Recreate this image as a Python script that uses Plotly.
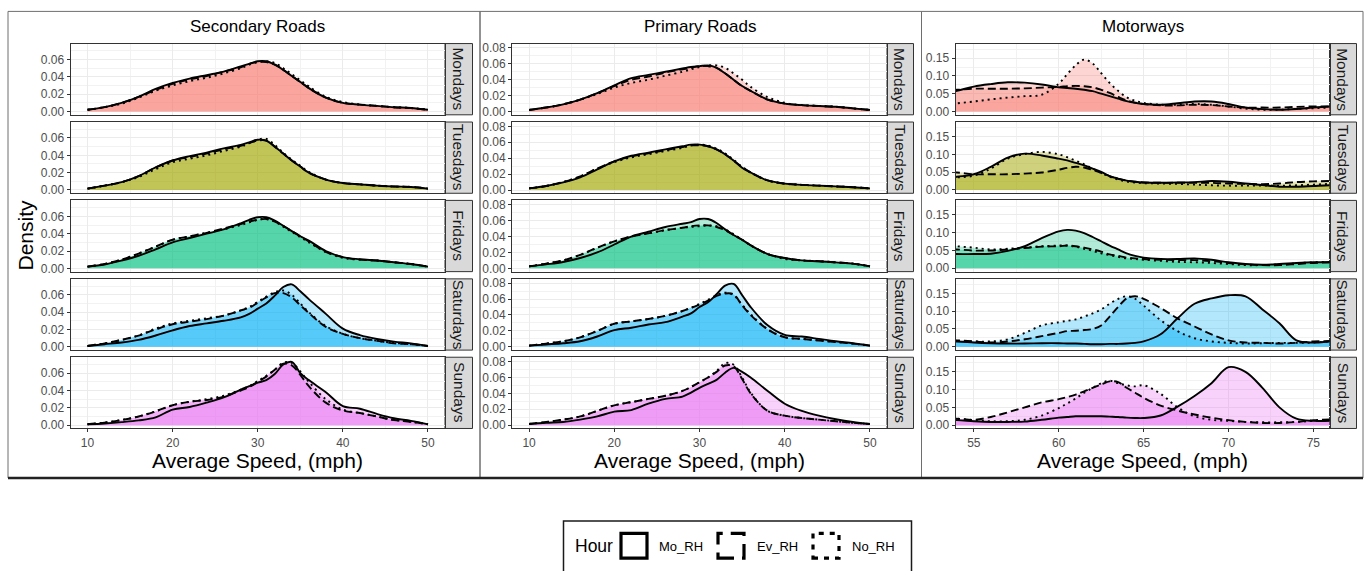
import plotly.graph_objects as go

W, H = 1370, 571

panel_titles = ["Secondary Roads", "Primary Roads", "Motorways"]
days = ["Mondays", "Tuesdays", "Fridays", "Saturdays", "Sundays"]
hours = ["Mo_RH", "Ev_RH", "No_RH"]
day_colors = ["#F8766D", "#A3A500", "#00BF7D", "#00B0F6", "#E76BF3"]

# speed grids (mph)
speed_roads = [10, 12, 14, 16, 18, 20, 22, 24, 26, 28, 29, 30, 31, 32, 33, 34, 35, 36, 38, 40, 42, 44, 46, 48, 50]
speed_motorways = [53, 54, 55, 56, 57, 58, 59, 60, 60.5, 61, 61.5, 62, 62.5, 63, 63.5, 64, 64.5, 65,
                   66, 67, 68, 69, 70, 71, 72, 73, 74, 75, 76, 77]

# ---------------- Secondary Roads ----------------
sec_mon_mo = [0.002, 0.005, 0.010, 0.017, 0.026, 0.033, 0.038, 0.042, 0.046, 0.052, 0.055, 0.058, 0.058, 0.054, 0.048, 0.041, 0.034, 0.027, 0.016, 0.010, 0.008, 0.0065, 0.005, 0.004, 0.002]
sec_mon_ev = [0.002, 0.005, 0.010, 0.017, 0.025, 0.032, 0.037, 0.041, 0.046, 0.051, 0.055, 0.057, 0.057, 0.054, 0.048, 0.041, 0.034, 0.027, 0.016, 0.010, 0.008, 0.0065, 0.005, 0.004, 0.002]
sec_mon_no = [0.002, 0.005, 0.009, 0.016, 0.024, 0.030, 0.035, 0.039, 0.044, 0.050, 0.054, 0.057, 0.058, 0.056, 0.050, 0.043, 0.036, 0.029, 0.017, 0.011, 0.008, 0.0065, 0.005, 0.004, 0.0025]

sec_tue_mo = [0.0015, 0.005, 0.009, 0.016, 0.026, 0.034, 0.039, 0.043, 0.048, 0.052, 0.055, 0.058, 0.057, 0.050, 0.042, 0.034, 0.027, 0.020, 0.012, 0.008, 0.0065, 0.005, 0.004, 0.0035, 0.0015]
sec_tue_ev = [0.0015, 0.005, 0.009, 0.016, 0.026, 0.034, 0.038, 0.042, 0.047, 0.051, 0.054, 0.057, 0.057, 0.050, 0.042, 0.034, 0.027, 0.020, 0.012, 0.008, 0.0065, 0.005, 0.004, 0.0035, 0.0015]
sec_tue_no = [0.0015, 0.005, 0.009, 0.015, 0.024, 0.032, 0.036, 0.040, 0.045, 0.050, 0.054, 0.058, 0.059, 0.052, 0.043, 0.035, 0.028, 0.021, 0.012, 0.008, 0.0065, 0.005, 0.004, 0.0035, 0.0015]

sec_fri_mo = [0.002, 0.0045, 0.009, 0.0145, 0.022, 0.030, 0.035, 0.040, 0.045, 0.052, 0.056, 0.059, 0.059, 0.055, 0.049, 0.043, 0.037, 0.032, 0.020, 0.013, 0.0105, 0.009, 0.007, 0.005, 0.002]
sec_fri_ev = [0.002, 0.005, 0.010, 0.017, 0.025, 0.033, 0.037, 0.041, 0.046, 0.051, 0.054, 0.056, 0.057, 0.054, 0.049, 0.043, 0.037, 0.031, 0.019, 0.013, 0.010, 0.009, 0.007, 0.005, 0.002]
sec_fri_no = [0.002, 0.005, 0.010, 0.017, 0.025, 0.033, 0.037, 0.041, 0.045, 0.050, 0.053, 0.056, 0.057, 0.054, 0.048, 0.042, 0.036, 0.030, 0.019, 0.012, 0.010, 0.009, 0.007, 0.005, 0.002]

sec_sat_mo = [0.001, 0.003, 0.005, 0.008, 0.013, 0.019, 0.024, 0.027, 0.030, 0.034, 0.038, 0.044, 0.050, 0.059, 0.069, 0.072, 0.064, 0.055, 0.038, 0.021, 0.0135, 0.009, 0.006, 0.004, 0.001]
sec_sat_ev = [0.001, 0.004, 0.008, 0.013, 0.020, 0.026, 0.029, 0.032, 0.036, 0.042, 0.045, 0.051, 0.057, 0.062, 0.062, 0.057, 0.048, 0.039, 0.023, 0.015, 0.010, 0.007, 0.004, 0.003, 0.001]
sec_sat_no = [0.001, 0.004, 0.008, 0.013, 0.021, 0.027, 0.030, 0.033, 0.036, 0.042, 0.046, 0.052, 0.058, 0.063, 0.065, 0.060, 0.050, 0.040, 0.024, 0.015, 0.010, 0.007, 0.0045, 0.003, 0.001]

sec_sun_mo = [0.001, 0.002, 0.0035, 0.0055, 0.009, 0.018, 0.021, 0.026, 0.032, 0.041, 0.045, 0.049, 0.052, 0.059, 0.070, 0.073, 0.060, 0.052, 0.038, 0.022, 0.019, 0.013, 0.008, 0.005, 0.001]
sec_sun_ev = [0.001, 0.003, 0.006, 0.010, 0.016, 0.023, 0.027, 0.029, 0.033, 0.040, 0.044, 0.050, 0.056, 0.064, 0.071, 0.069, 0.058, 0.045, 0.026, 0.017, 0.014, 0.010, 0.006, 0.004, 0.001]
sec_sun_no = [0.001, 0.003, 0.006, 0.010, 0.016, 0.023, 0.027, 0.030, 0.034, 0.041, 0.045, 0.051, 0.057, 0.064, 0.072, 0.072, 0.062, 0.050, 0.030, 0.018, 0.014, 0.010, 0.006, 0.004, 0.001]

# ---------------- Primary Roads ----------------
pri_mon_mo = [0.002, 0.005, 0.009, 0.015, 0.023, 0.033, 0.042, 0.046, 0.050, 0.054, 0.056, 0.057, 0.058, 0.055, 0.048, 0.040, 0.032, 0.026, 0.015, 0.010, 0.008, 0.007, 0.006, 0.004, 0.002]
pri_mon_ev = [0.002, 0.005, 0.009, 0.015, 0.023, 0.032, 0.040, 0.044, 0.049, 0.053, 0.055, 0.057, 0.057, 0.055, 0.048, 0.040, 0.032, 0.026, 0.015, 0.010, 0.008, 0.007, 0.006, 0.004, 0.002]
pri_mon_no = [0.002, 0.005, 0.009, 0.015, 0.022, 0.030, 0.036, 0.040, 0.045, 0.050, 0.053, 0.056, 0.058, 0.058, 0.055, 0.048, 0.040, 0.031, 0.018, 0.011, 0.008, 0.007, 0.006, 0.004, 0.002]

pri_tue_mo = [0.002, 0.005, 0.0095, 0.016, 0.026, 0.036, 0.043, 0.047, 0.051, 0.055, 0.057, 0.057, 0.055, 0.051, 0.045, 0.037, 0.028, 0.022, 0.012, 0.008, 0.0065, 0.0055, 0.0045, 0.0035, 0.002]
pri_tue_ev = [0.002, 0.005, 0.010, 0.017, 0.027, 0.036, 0.042, 0.046, 0.050, 0.054, 0.056, 0.056, 0.055, 0.051, 0.045, 0.037, 0.029, 0.022, 0.012, 0.008, 0.0065, 0.0055, 0.0045, 0.0035, 0.002]
pri_tue_no = [0.002, 0.005, 0.010, 0.017, 0.027, 0.035, 0.041, 0.045, 0.049, 0.053, 0.056, 0.057, 0.056, 0.052, 0.046, 0.038, 0.029, 0.022, 0.012, 0.008, 0.0065, 0.0055, 0.0045, 0.0035, 0.002]

pri_fri_mo = [0.0025, 0.005, 0.008, 0.013, 0.020, 0.030, 0.040, 0.046, 0.052, 0.056, 0.058, 0.062, 0.062, 0.057, 0.049, 0.042, 0.036, 0.029, 0.018, 0.013, 0.010, 0.009, 0.0075, 0.006, 0.0025]
pri_fri_ev = [0.0025, 0.006, 0.010, 0.017, 0.026, 0.034, 0.040, 0.044, 0.048, 0.051, 0.053, 0.054, 0.054, 0.052, 0.048, 0.042, 0.036, 0.029, 0.018, 0.013, 0.010, 0.009, 0.0075, 0.006, 0.0025]
pri_fri_no = [0.0025, 0.006, 0.010, 0.017, 0.026, 0.034, 0.040, 0.044, 0.048, 0.051, 0.052, 0.053, 0.054, 0.053, 0.049, 0.043, 0.036, 0.029, 0.018, 0.012, 0.010, 0.009, 0.0075, 0.006, 0.0025]

pri_sat_mo = [0.0015, 0.003, 0.0045, 0.007, 0.013, 0.021, 0.024, 0.028, 0.031, 0.038, 0.042, 0.050, 0.056, 0.066, 0.077, 0.079, 0.065, 0.050, 0.027, 0.015, 0.013, 0.010, 0.007, 0.0045, 0.0015]
pri_sat_ev = [0.0015, 0.004, 0.007, 0.012, 0.020, 0.029, 0.032, 0.035, 0.039, 0.045, 0.049, 0.053, 0.058, 0.064, 0.067, 0.066, 0.052, 0.040, 0.022, 0.012, 0.010, 0.008, 0.006, 0.004, 0.0015]
pri_sat_no = [0.0015, 0.004, 0.007, 0.012, 0.020, 0.029, 0.032, 0.035, 0.039, 0.045, 0.049, 0.054, 0.059, 0.065, 0.068, 0.065, 0.053, 0.041, 0.022, 0.012, 0.010, 0.008, 0.006, 0.004, 0.0015]

pri_sun_mo = [0.0015, 0.003, 0.004, 0.007, 0.011, 0.017, 0.019, 0.027, 0.033, 0.036, 0.041, 0.047, 0.052, 0.057, 0.066, 0.072, 0.067, 0.060, 0.043, 0.027, 0.018, 0.012, 0.0075, 0.004, 0.0015]
pri_sun_ev = [0.0015, 0.004, 0.007, 0.011, 0.018, 0.025, 0.029, 0.033, 0.037, 0.043, 0.048, 0.054, 0.060, 0.067, 0.075, 0.074, 0.058, 0.040, 0.018, 0.012, 0.009, 0.007, 0.005, 0.003, 0.0015]
pri_sun_no = [0.0015, 0.004, 0.007, 0.011, 0.018, 0.025, 0.029, 0.033, 0.037, 0.043, 0.048, 0.054, 0.060, 0.068, 0.078, 0.076, 0.060, 0.041, 0.018, 0.012, 0.009, 0.007, 0.005, 0.003, 0.0015]

# ---------------- Motorways ----------------
mot_mon_mo = [0.050, 0.058, 0.070, 0.077, 0.082, 0.081, 0.076, 0.068, 0.066, 0.064, 0.061, 0.057, 0.050, 0.043, 0.036, 0.029, 0.024, 0.021, 0.019, 0.023, 0.028, 0.028, 0.021, 0.011, 0.0065, 0.005, 0.007, 0.011, 0.014, 0.016]
mot_mon_ev = [0.058, 0.061, 0.064, 0.064, 0.064, 0.065, 0.067, 0.069, 0.071, 0.072, 0.071, 0.068, 0.061, 0.052, 0.041, 0.031, 0.025, 0.021, 0.017, 0.017, 0.019, 0.018, 0.014, 0.011, 0.011, 0.011, 0.013, 0.014, 0.014, 0.014]
mot_mon_no = [0.020, 0.023, 0.028, 0.034, 0.039, 0.043, 0.047, 0.078, 0.105, 0.130, 0.146, 0.135, 0.108, 0.080, 0.058, 0.040, 0.030, 0.024, 0.019, 0.019, 0.021, 0.019, 0.014, 0.008, 0.005, 0.005, 0.0075, 0.009, 0.011, 0.012]

mot_tue_mo = [0.030, 0.037, 0.044, 0.065, 0.091, 0.102, 0.097, 0.088, 0.083, 0.076, 0.069, 0.060, 0.051, 0.039, 0.032, 0.026, 0.023, 0.021, 0.020, 0.021, 0.022, 0.025, 0.023, 0.018, 0.014, 0.009, 0.009, 0.011, 0.013, 0.014]
mot_tue_ev = [0.050, 0.049, 0.044, 0.044, 0.044, 0.046, 0.049, 0.057, 0.062, 0.065, 0.063, 0.056, 0.048, 0.039, 0.031, 0.026, 0.023, 0.021, 0.020, 0.020, 0.020, 0.020, 0.018, 0.017, 0.016, 0.018, 0.022, 0.024, 0.025, 0.025]
mot_tue_no = [0.030, 0.035, 0.040, 0.060, 0.088, 0.101, 0.107, 0.100, 0.092, 0.082, 0.072, 0.060, 0.048, 0.037, 0.029, 0.024, 0.021, 0.019, 0.018, 0.017, 0.015, 0.013, 0.012, 0.012, 0.012, 0.012, 0.013, 0.015, 0.017, 0.018]

mot_fri_mo = [0.040, 0.040, 0.040, 0.041, 0.049, 0.062, 0.085, 0.104, 0.108, 0.106, 0.099, 0.088, 0.076, 0.064, 0.053, 0.042, 0.035, 0.030, 0.026, 0.026, 0.028, 0.024, 0.017, 0.012, 0.010, 0.012, 0.015, 0.017, 0.017, 0.017]
mot_fri_ev = [0.055, 0.053, 0.050, 0.050, 0.053, 0.057, 0.061, 0.062, 0.064, 0.062, 0.058, 0.053, 0.047, 0.039, 0.035, 0.030, 0.028, 0.026, 0.024, 0.023, 0.023, 0.020, 0.015, 0.011, 0.009, 0.009, 0.012, 0.015, 0.017, 0.018]
mot_fri_no = [0.068, 0.062, 0.058, 0.053, 0.055, 0.058, 0.062, 0.064, 0.064, 0.061, 0.055, 0.049, 0.042, 0.037, 0.032, 0.028, 0.026, 0.024, 0.021, 0.018, 0.017, 0.015, 0.012, 0.009, 0.009, 0.011, 0.014, 0.017, 0.018, 0.019]

mot_sat_mo = [0.012, 0.015, 0.012, 0.010, 0.009, 0.009, 0.010, 0.010, 0.009, 0.009, 0.008, 0.007, 0.007, 0.008, 0.008, 0.009, 0.011, 0.015, 0.035, 0.080, 0.121, 0.136, 0.145, 0.142, 0.105, 0.066, 0.018, 0.012, 0.015, 0.016]
mot_sat_ev = [0.018, 0.018, 0.015, 0.012, 0.015, 0.021, 0.030, 0.039, 0.044, 0.045, 0.047, 0.050, 0.060, 0.085, 0.112, 0.136, 0.142, 0.135, 0.109, 0.080, 0.057, 0.035, 0.018, 0.012, 0.011, 0.009, 0.011, 0.015, 0.016, 0.017]
mot_sat_no = [0.015, 0.016, 0.015, 0.015, 0.021, 0.039, 0.060, 0.069, 0.073, 0.077, 0.085, 0.094, 0.105, 0.121, 0.135, 0.142, 0.135, 0.116, 0.075, 0.044, 0.024, 0.015, 0.011, 0.009, 0.010, 0.011, 0.011, 0.012, 0.015, 0.016]

mot_sun_mo = [0.014, 0.014, 0.011, 0.009, 0.009, 0.010, 0.015, 0.021, 0.023, 0.025, 0.025, 0.025, 0.025, 0.024, 0.023, 0.021, 0.020, 0.020, 0.027, 0.052, 0.082, 0.118, 0.163, 0.150, 0.105, 0.050, 0.018, 0.012, 0.012, 0.012]
mot_sun_ev = [0.016, 0.018, 0.015, 0.023, 0.036, 0.050, 0.064, 0.073, 0.079, 0.086, 0.095, 0.105, 0.114, 0.123, 0.121, 0.105, 0.091, 0.077, 0.055, 0.041, 0.030, 0.021, 0.014, 0.009, 0.006, 0.006, 0.009, 0.014, 0.016, 0.017]
mot_sun_no = [0.018, 0.018, 0.014, 0.011, 0.011, 0.015, 0.027, 0.048, 0.061, 0.075, 0.091, 0.105, 0.118, 0.125, 0.118, 0.112, 0.109, 0.112, 0.088, 0.050, 0.025, 0.015, 0.012, 0.009, 0.008, 0.008, 0.009, 0.012, 0.014, 0.015]

density = {
    "Secondary Roads": [[sec_mon_mo, sec_mon_ev, sec_mon_no], [sec_tue_mo, sec_tue_ev, sec_tue_no],
                        [sec_fri_mo, sec_fri_ev, sec_fri_no], [sec_sat_mo, sec_sat_ev, sec_sat_no],
                        [sec_sun_mo, sec_sun_ev, sec_sun_no]],
    "Primary Roads": [[pri_mon_mo, pri_mon_ev, pri_mon_no], [pri_tue_mo, pri_tue_ev, pri_tue_no],
                      [pri_fri_mo, pri_fri_ev, pri_fri_no], [pri_sat_mo, pri_sat_ev, pri_sat_no],
                      [pri_sun_mo, pri_sun_ev, pri_sun_no]],
    "Motorways": [[mot_mon_mo, mot_mon_ev, mot_mon_no], [mot_tue_mo, mot_tue_ev, mot_tue_no],
                  [mot_fri_mo, mot_fri_ev, mot_fri_no], [mot_sat_mo, mot_sat_ev, mot_sat_no],
                  [mot_sun_mo, mot_sun_ev, mot_sun_no]],
}
x_grid = {"Secondary Roads": speed_roads, "Primary Roads": speed_roads, "Motorways": speed_motorways}

x_ticks = {"Secondary Roads": [10, 20, 30, 40, 50], "Primary Roads": [10, 20, 30, 40, 50],
           "Motorways": [55, 60, 65, 70, 75]}
x_minor = {"Secondary Roads": [15, 25, 35, 45], "Primary Roads": [15, 25, 35, 45],
           "Motorways": [57.5, 62.5, 67.5, 72.5]}
y_ticks = {"Secondary Roads": [0, 0.02, 0.04, 0.06], "Primary Roads": [0, 0.02, 0.04, 0.06, 0.08],
           "Motorways": [0, 0.05, 0.10, 0.15]}
y_minor = {"Secondary Roads": [0.01, 0.03, 0.05, 0.07], "Primary Roads": [0.01, 0.03, 0.05, 0.07],
           "Motorways": [0.025, 0.075, 0.125, 0.175]}

# ---------------- layout geometry (pixels) ----------------
x_range = {"Secondary Roads": [8, 52], "Primary Roads": [8, 52], "Motorways": [53.92, 75.95]}
y_range = {"Secondary Roads": [-0.0038, 0.0784], "Primary Roads": [-0.0041, 0.0854],
           "Motorways": [-0.0094, 0.191]}
plot_px = [(70.5, 445), (512, 887), (955.5, 1329.5)]
strip_px = [(445, 472.5), (887, 913.5), (1329.5, 1356.5)]
row_top = [42, 121.3, 200.5, 279.8, 359]
row_h = 72

hour_dash = {"Mo_RH": "solid", "Ev_RH": "8px,4px", "No_RH": "2px,4px"}
FONT = "Liberation Sans, Arial, sans-serif"


def px_x(v):
    return v / W


def px_y(v):
    return 1 - v / H


def rgba(hx, a):
    hx = hx.lstrip("#")
    return "rgba(%d,%d,%d,%.2f)" % (int(hx[0:2], 16), int(hx[2:4], 16), int(hx[4:6], 16), a)


fig = go.Figure()
shapes = []
annotations = []
layout_axes = {}

for p, panel in enumerate(panel_titles):
    xs = x_grid[panel]
    for r, day in enumerate(days):
        idx = p * 5 + r + 1
        xa = "x" if idx == 1 else "x%d" % idx
        ya = "y" if idx == 1 else "y%d" % idx
        curves = density[panel][r]
        for c in curves:
            assert len(c) == len(xs), (panel, day, len(c))
        # fills first
        for h, ys in zip(hours, curves):
            fig.add_trace(go.Scatter(x=xs, y=ys, xaxis=xa, yaxis=ya, mode="lines",
                                     line=dict(width=0, shape="spline"), fill="tozeroy",
                                     fillcolor=rgba(day_colors[r], 0.30), showlegend=False,
                                     hoverinfo="skip"))
        # outlines on top
        for h, ys in zip(hours, curves):
            fig.add_trace(go.Scatter(x=xs, y=ys, xaxis=xa, yaxis=ya, mode="lines",
                                     line=dict(width=1.9, color="black", dash=hour_dash[h], shape="spline"),
                                     showlegend=False, name=h))

        x0, x1 = plot_px[p]
        y0, y1 = row_top[r], row_top[r] + row_h
        bottom = (r == len(days) - 1)
        layout_axes["xaxis" + ("" if idx == 1 else str(idx))] = dict(
            domain=[px_x(x0), px_x(x1)], range=x_range[panel], anchor=ya,
            tickmode="array", tickvals=x_ticks[panel], showticklabels=bottom,
            ticks="outside" if bottom else "", ticklen=3, tickcolor="#333333",
            tickfont=dict(family=FONT, size=12, color="#4D4D4D"),
            showgrid=True, gridcolor="#EBEBEB", gridwidth=1.1,
            minor=dict(tickmode="array", tickvals=x_minor[panel], showgrid=True,
                       gridcolor="#F2F2F2", gridwidth=0.6),
            showline=True, mirror=True, linecolor="#333333", linewidth=1, zeroline=False, fixedrange=True)
        layout_axes["yaxis" + ("" if idx == 1 else str(idx))] = dict(
            domain=[px_y(y1), px_y(y0)], range=y_range[panel], anchor=xa,
            tickmode="array", tickvals=y_ticks[panel], tickformat=".2f",
            ticks="outside", ticklen=3, tickcolor="#333333",
            tickfont=dict(family=FONT, size=12, color="#4D4D4D"),
            showgrid=True, gridcolor="#EBEBEB", gridwidth=1.1,
            minor=dict(tickmode="array", tickvals=y_minor[panel], showgrid=True,
                       gridcolor="#F2F2F2", gridwidth=0.6),
            showline=True, mirror=True, linecolor="#333333", linewidth=1, zeroline=False, fixedrange=True)

        # strip
        sx0, sx1 = strip_px[p]
        shapes.append(dict(type="rect", xref="paper", yref="paper",
                           x0=px_x(sx0), x1=px_x(sx1), y0=px_y(y1), y1=px_y(y0),
                           fillcolor="#D9D9D9", line=dict(color="#333333", width=1), layer="below"))
        annotations.append(dict(text=day, xref="paper", yref="paper",
                                x=px_x((sx0 + sx1) / 2), y=px_y((y0 + y1) / 2),
                                xanchor="center", yanchor="middle", textangle=90, showarrow=False,
                                font=dict(family=FONT, size=15.5, color="#1A1A1A")))

    # panel title and x-axis title
    x0, x1 = plot_px[p]
    annotations.append(dict(text=panel, xref="paper", yref="paper", x=px_x((x0 + x1) / 2), y=px_y(24.5),
                            xanchor="center", yanchor="middle", showarrow=False,
                            font=dict(family=FONT, size=17, color="black")))
    annotations.append(dict(text="Average Speed, (mph)", xref="paper", yref="paper",
                            x=px_x((x0 + x1) / 2), y=px_y(463), xanchor="center", yanchor="middle",
                            showarrow=False, font=dict(family=FONT, size=21, color="black")))

annotations.append(dict(text="Density", xref="paper", yref="paper", x=px_x(26), y=px_y(236),
                        xanchor="center", yanchor="middle", textangle=-90, showarrow=False,
                        font=dict(family=FONT, size=21, color="black")))

# outer frames of the three panels
for fx0, fx1 in [(8, 480), (480, 921.5), (921.5, 1363)]:
    shapes.append(dict(type="rect", xref="paper", yref="paper", x0=px_x(fx0), x1=px_x(fx1),
                       y0=px_y(481), y1=px_y(9.5), line=dict(color="#6E6E6E", width=1),
                       fillcolor="rgba(0,0,0,0)", layer="below"))
shapes.append(dict(type="line", xref="paper", yref="paper", x0=px_x(8), x1=px_x(1363),
                   y0=px_y(481), y1=px_y(481), line=dict(color="#222222", width=2.5)))

# legend (linetype key)
shapes.append(dict(type="rect", xref="paper", yref="paper", x0=px_x(563.5), x1=px_x(911.5),
                   y0=px_y(590), y1=px_y(524.5), line=dict(color="#1A1A1A", width=1.5),
                   fillcolor="white"))
annotations.append(dict(text="Hour", xref="paper", yref="paper", x=px_x(573), y=px_y(550),
                        xanchor="left", yanchor="middle", showarrow=False,
                        font=dict(family=FONT, size=17.5, color="black")))
key_x = [621, 718, 813]
label_x = [657, 755, 850]
key_dash = {"Mo_RH": "solid", "Ev_RH": "16px,8px", "No_RH": "5px,6px"}
for h, kx, lx in zip(hours, key_x, label_x):
    shapes.append(dict(type="rect", xref="paper", yref="paper", x0=px_x(kx), x1=px_x(kx + 26),
                       y0=px_y(562), y1=px_y(537), line=dict(color="black", width=3.2, dash=key_dash[h]),
                       fillcolor="white"))
    annotations.append(dict(text=h, xref="paper", yref="paper", x=px_x(lx), y=px_y(550),
                            xanchor="left", yanchor="middle", showarrow=False,
                            font=dict(family=FONT, size=13, color="black")))

fig.update_layout(width=W, height=H, margin=dict(l=0, r=0, t=0, b=0),
                  paper_bgcolor="white", plot_bgcolor="white", showlegend=False,
                  shapes=shapes, annotations=annotations, **layout_axes)

fig.write_html("out.html")
